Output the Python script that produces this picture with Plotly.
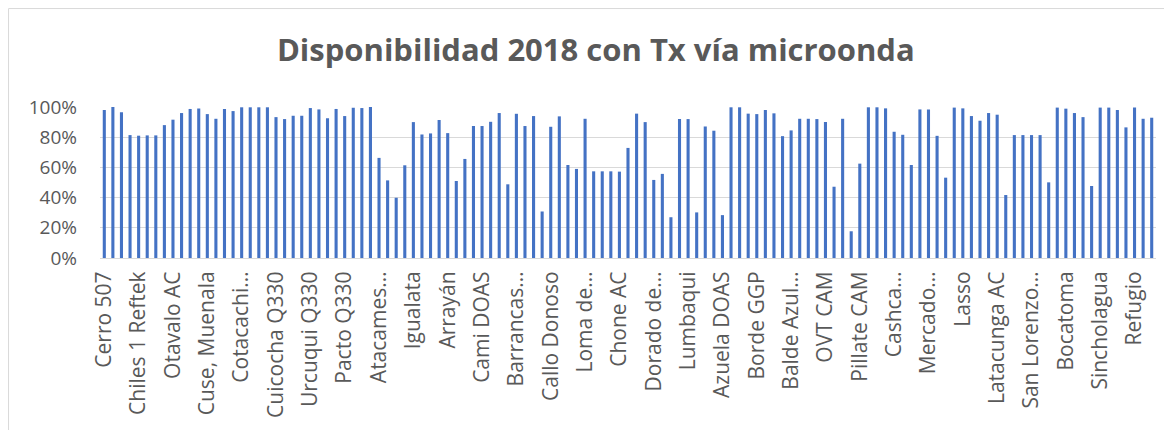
import plotly.graph_objects as go

# Disponibilidad (%) por estación, en el orden del eje X
disponibilidad = [
    98.0, 100.0, 96.5, 81.4, 81.0, 81.2, 81.2, 88.0, 91.6, 96.0,
    98.7, 99.0, 95.3, 92.2, 98.7, 97.3, 99.8, 99.8, 99.8, 99.8,
    93.3, 92.0, 94.2, 94.2, 99.3, 98.4, 92.5, 98.7, 94.0, 99.5,
    99.3, 100.0, 66.3, 51.4, 39.9, 61.4, 90.0, 81.8, 82.5, 91.4,
    82.7, 51.0, 65.6, 87.4, 87.4, 90.2, 96.0, 48.8, 95.5, 87.4,
    94.0, 30.8, 86.9, 93.8, 61.6, 59.0, 92.2, 57.4, 57.4, 57.4,
    57.2, 72.9, 95.6, 90.0, 51.7, 55.7, 27.0, 92.0, 92.0, 30.2,
    87.1, 84.3, 28.4, 99.8, 99.8, 95.6, 95.3, 98.0, 95.8, 80.7,
    84.5, 92.2, 92.2, 92.0, 90.0, 47.2, 92.2, 17.7, 62.5, 99.8,
    99.8, 99.1, 83.6, 81.6, 61.6, 98.4, 98.4, 80.9, 53.2, 99.6,
    99.1, 94.0, 90.9, 96.0, 94.9, 41.7, 81.4, 81.4, 81.4, 81.4,
    50.1, 99.6, 98.9, 96.0, 93.3, 47.7, 99.6, 99.6, 98.0, 86.5,
    99.6, 92.2, 92.9,
]

# Sólo se ve una etiqueta cada 4 estaciones
paso_etiquetas = 4
etiquetas = [
    "Cerro 507", "Chiles 1 Reftek", "Otavalo AC", "Cuse, Muenala",
    "Cotacachi…", "Cuicocha Q330", "Urcuqui Q330", "Pacto Q330",
    "Atacames…", "Igualata", "Arrayán", "Cami DOAS", "Barrancas…",
    "Callo Donoso", "Loma de…", "Chone AC", "Dorado de…", "Lumbaqui",
    "Azuela DOAS", "Borde GGP", "Balde Azul…", "OVT CAM", "Pillate CAM",
    "Cashca…", "Mercado…", "Lasso", "Latacunga AC", "San Lorenzo…",
    "Bocatoma", "Sincholagua", "Refugio",
]

estaciones = list(range(len(disponibilidad)))
gris = "#595959"

fig = go.Figure(
    go.Bar(x=estaciones, y=disponibilidad, marker_color="#4472C4", marker_line_width=0)
)

# la página deja 8 px de margen, así que la figura mide 1164x422
fig.update_layout(
    width=1164,
    height=422,
    margin=dict(l=92, r=16, t=99, b=172),
    paper_bgcolor="white",
    plot_bgcolor="white",
    bargap=0.64,
    showlegend=False,
    font=dict(family="Open Sans", color=gris),
    title=dict(
        text="<b>Disponibilidad 2018 con Tx vía microonda</b>",
        font=dict(size=31, color=gris, family="Open Sans"),
        x=0.505,
        xanchor="center",
        xref="container",
        y=0.90,
        yanchor="middle",
        yref="container",
    ),
)

fig.update_xaxes(
    range=[-0.5, len(disponibilidad) - 0.5],
    tickmode="array",
    tickvals=estaciones[::paso_etiquetas],
    ticktext=etiquetas,
    tickangle=-90,
    tickfont=dict(size=21, color=gris),
    showgrid=False,
    showline=True,
    linecolor="#D9D9D9",
    linewidth=1,
    ticks="",
    ticklabelstandoff=4,
)

fig.update_yaxes(
    range=[0, 100],
    dtick=20,
    ticksuffix="%",
    tickfont=dict(size=19, color=gris),
    showgrid=True,
    gridcolor="#D9D9D9",
    gridwidth=1,
    zeroline=False,
    ticks="",
    ticklabelstandoff=22,
)

# Borde del área del gráfico (arriba e izquierda)
borde = dict(type="line", xref="paper", yref="paper", line=dict(color="#D9D9D9", width=1))
fig.add_shape(x0=-0.0866, x1=1.03, y0=1.652, y1=1.652, **borde)
fig.add_shape(x0=-0.0866, x1=-0.0866, y0=1.652, y1=-1.3, **borde)

fig.write_html("out.html")
